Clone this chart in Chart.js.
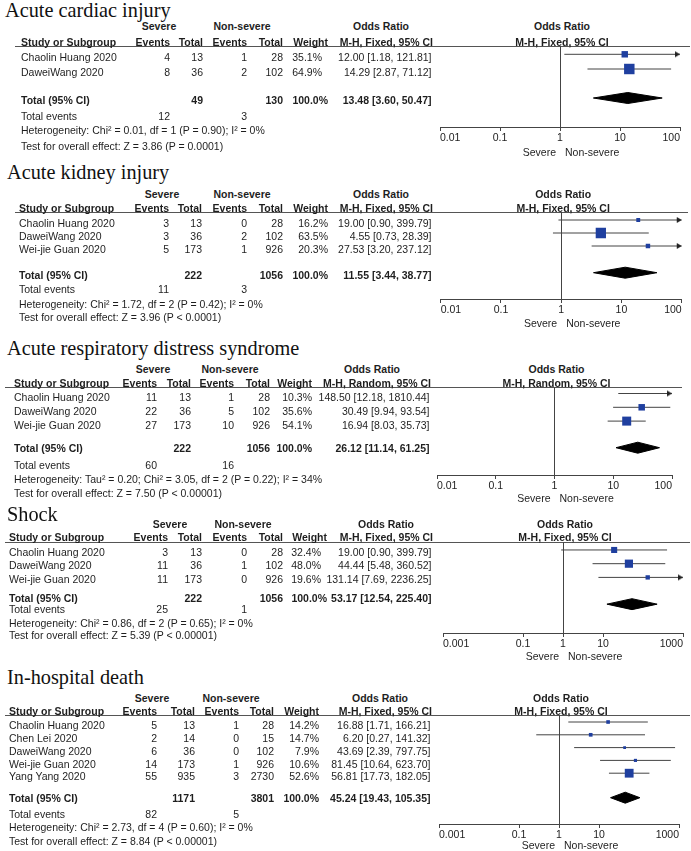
<!DOCTYPE html>
<html>
<head>
<meta charset="utf-8">
<script src="https://cdn.jsdelivr.net/npm/chart.js@4.4.0/dist/chart.umd.min.js"></script>
<style>
  body { margin: 0; background: #fff; }
  #page { position: relative; width: 691px; height: 851px; overflow: hidden; background: #fff;
          font-family: "Liberation Sans", Arial, sans-serif; color: #1e1e1e; }
  .t { position: absolute; white-space: nowrap; font-size: 10.5px; line-height: 12px; }
  .ttl { position: absolute; white-space: nowrap; font-family: "Liberation Serif", "Times New Roman", serif;
         font-size: 20.3px; line-height: 20px; color: #111; }
  canvas { position: absolute; left: 0; }
  .hl { position: absolute; height: 0; border-top: 1px solid #555; }
</style>
</head>
<body>
<div id="page"></div>
<script>
// ---- Acute cardiac injury
const cardiacStudies = ["Chaolin Huang 2020", "DaweiWang 2020"];
const cardiacSevEvents = [4, 8];
const cardiacSevTotal = [13, 36];
const cardiacNonEvents = [1, 2];
const cardiacNonTotal = [28, 102];
const cardiacWeight = [35.1, 64.9];
const cardiacOR = [12.00, 14.29];
const cardiacLow = [1.18, 2.87];
const cardiacHigh = [121.81, 71.12];
const cardiacPooled = [13.48, 3.60, 50.47];
const cardiacTotals = [49, 130, 12, 3]; // severe total, non-severe total, severe events, non-severe events
const cardiacHet = "Chi² = 0.01, df = 1 (P = 0.90); I² = 0%";
const cardiacTest = "Z = 3.86 (P = 0.0001)";
const cardiacTicks = [0.01, 0.1, 1, 10, 100];

// ---- Acute kidney injury
const kidneyStudies = ["Chaolin Huang 2020", "DaweiWang 2020", "Wei-jie Guan 2020"];
const kidneySevEvents = [3, 3, 5];
const kidneySevTotal = [13, 36, 173];
const kidneyNonEvents = [0, 2, 1];
const kidneyNonTotal = [28, 102, 926];
const kidneyWeight = [16.2, 63.5, 20.3];
const kidneyOR = [19.00, 4.55, 27.53];
const kidneyLow = [0.90, 0.73, 3.20];
const kidneyHigh = [399.79, 28.39, 237.12];
const kidneyPooled = [11.55, 3.44, 38.77];
const kidneyTotals = [222, 1056, 11, 3];
const kidneyHet = "Chi² = 1.72, df = 2 (P = 0.42); I² = 0%";
const kidneyTest = "Z = 3.96 (P < 0.0001)";
const kidneyTicks = [0.01, 0.1, 1, 10, 100];

// ---- Acute respiratory distress syndrome
const ardsStudies = ["Chaolin Huang 2020", "DaweiWang 2020", "Wei-jie Guan 2020"];
const ardsSevEvents = [11, 22, 27];
const ardsSevTotal = [13, 36, 173];
const ardsNonEvents = [1, 5, 10];
const ardsNonTotal = [28, 102, 926];
const ardsWeight = [10.3, 35.6, 54.1];
const ardsOR = [148.50, 30.49, 16.94];
const ardsLow = [12.18, 9.94, 8.03];
const ardsHigh = [1810.44, 93.54, 35.73];
const ardsPooled = [26.12, 11.14, 61.25];
const ardsTotals = [222, 1056, 60, 16];
const ardsHet = "Tau² = 0.20; Chi² = 3.05, df = 2 (P = 0.22); I² = 34%";
const ardsTest = "Z = 7.50 (P < 0.00001)";
const ardsTicks = [0.01, 0.1, 1, 10, 100];

// ---- Shock
const shockStudies = ["Chaolin Huang 2020", "DaweiWang 2020", "Wei-jie Guan 2020"];
const shockSevEvents = [3, 11, 11];
const shockSevTotal = [13, 36, 173];
const shockNonEvents = [0, 1, 0];
const shockNonTotal = [28, 102, 926];
const shockWeight = [32.4, 48.0, 19.6];
const shockOR = [19.00, 44.44, 131.14];
const shockLow = [0.90, 5.48, 7.69];
const shockHigh = [399.79, 360.52, 2236.25];
const shockPooled = [53.17, 12.54, 225.40];
const shockTotals = [222, 1056, 25, 1];
const shockHet = "Chi² = 0.86, df = 2 (P = 0.65); I² = 0%";
const shockTest = "Z = 5.39 (P < 0.00001)";
const shockTicks = [0.001, 0.1, 1, 10, 1000];

// ---- In-hospital death
const deathStudies = ["Chaolin Huang 2020", "Chen Lei 2020", "DaweiWang 2020", "Wei-jie Guan 2020", "Yang Yang 2020"];
const deathSevEvents = [5, 2, 6, 14, 55];
const deathSevTotal = [13, 14, 36, 173, 935];
const deathNonEvents = [1, 0, 0, 1, 3];
const deathNonTotal = [28, 15, 102, 926, 2730];
const deathWeight = [14.2, 14.7, 7.9, 10.6, 52.6];
const deathOR = [16.88, 6.20, 43.69, 81.45, 56.81];
const deathLow = [1.71, 0.27, 2.39, 10.64, 17.73];
const deathHigh = [166.21, 141.32, 797.75, 623.70, 182.05];
const deathPooled = [45.24, 19.43, 105.35];
const deathTotals = [1171, 3801, 82, 5];
const deathHet = "Chi² = 2.73, df = 4 (P = 0.60); I² = 0%";
const deathTest = "Z = 8.84 (P < 0.00001)";
const deathTicks = [0.001, 0.1, 1, 10, 1000];

// layout: c = right edges of [study(left), sev events, sev total, non events, non total, weight, CI]; wv = right edge of weight values
const panels = [
  { title: "Acute cardiac injury", method: "Fixed", studies: cardiacStudies, se: cardiacSevEvents, st: cardiacSevTotal,
    ne: cardiacNonEvents, nt: cardiacNonTotal, w: cardiacWeight, or: cardiacOR, lo: cardiacLow, hi: cardiacHigh,
    pooled: cardiacPooled, totals: cardiacTotals, het: cardiacHet, test: cardiacTest, ticks: cardiacTicks,
    L: { title: 9.8, tx: 5, h1: 26, h2: 42, line: 46, lx0: 15, lx1: 690, row0: 54.3, step: 14.7, tdy: 3, total: 100, diam: 98,
         tev: 116, het: 130, test: 146, axis: 127, x0: 440, x1: 680, foot: 152,
         c: [21, 170, 203, 247, 283, 328, 433], wv: 322, sevC: 159, nonC: 242, orC: 381 } },
  { title: "Acute kidney injury", method: "Fixed", studies: kidneyStudies, se: kidneySevEvents, st: kidneySevTotal,
    ne: kidneyNonEvents, nt: kidneyNonTotal, w: kidneyWeight, or: kidneyOR, lo: kidneyLow, hi: kidneyHigh,
    pooled: kidneyPooled, totals: kidneyTotals, het: kidneyHet, test: kidneyTest, ticks: kidneyTicks,
    L: { title: 171.7, tx: 7, h1: 194, h2: 208, line: 212, lx0: 15, lx1: 688, row0: 220, step: 13, tdy: 3, total: 275, diam: 272.7,
         tev: 289, het: 304, test: 317, axis: 299, x0: 440.7, x1: 681.7, foot: 323,
         c: [19, 169, 202, 247, 283, 328, 433], wv: 328, sevC: 162, nonC: 242, orC: 381 } },
  { title: "Acute respiratory distress syndrome", method: "Random", studies: ardsStudies, se: ardsSevEvents, st: ardsSevTotal,
    ne: ardsNonEvents, nt: ardsNonTotal, w: ardsWeight, or: ardsOR, lo: ardsLow, hi: ardsHigh,
    pooled: ardsPooled, totals: ardsTotals, het: ardsHet, test: ardsTest, ticks: ardsTicks,
    L: { title: 347.7, tx: 7, h1: 369, h2: 383, line: 387, lx0: 5, lx1: 682, row0: 393.5, step: 13.8, tdy: 3.5, total: 448, diam: 447.7,
         tev: 465, het: 479, test: 493, axis: 475, x0: 437, x1: 672, foot: 498,
         c: [14, 157, 191, 234, 270, 312, 431], wv: 312, sevC: 153, nonC: 230, orC: 372 } },
  { title: "Shock", method: "Fixed", studies: shockStudies, se: shockSevEvents, st: shockSevTotal,
    ne: shockNonEvents, nt: shockNonTotal, w: shockWeight, or: shockOR, lo: shockLow, hi: shockHigh,
    pooled: shockPooled, totals: shockTotals, het: shockHet, test: shockTest, ticks: shockTicks,
    L: { title: 514, tx: 7, h1: 524, h2: 537, line: 541.5, lx0: 5, lx1: 690, row0: 549.5, step: 13.8, tdy: 2, total: 598, diam: 604,
         tev: 609, het: 623, test: 635, axis: 633, x0: 443, x1: 683, foot: 656,
         c: [9, 168, 202, 247, 283, 327, 433], wv: 321, sevC: 170, nonC: 243, orC: 386 } },
  { title: "In-hospital death", method: "Fixed", studies: deathStudies, se: deathSevEvents, st: deathSevTotal,
    ne: deathNonEvents, nt: deathNonTotal, w: deathWeight, or: deathOR, lo: deathLow, hi: deathHigh,
    pooled: deathPooled, totals: deathTotals, het: deathHet, test: deathTest, ticks: deathTicks,
    L: { title: 677, tx: 7, h1: 698, h2: 711, line: 715, lx0: 5, lx1: 690, row0: 722, step: 12.8, tdy: 3, total: 798, diam: 797.7,
         tev: 814, het: 827, test: 841, axis: 824, x0: 439, x1: 679, foot: 845,
         c: [9, 157, 195, 239, 274, 319, 432], wv: 319, sevC: 152, nonC: 231, orC: 380 } }
];

const BLUE = "#1f3f9f";
const LINE = "#444";
const FONT = '"Liberation Sans", Arial, sans-serif';
const page = document.getElementById("page");

// arrow head with its tip in the middle of the image, so it ends on the axis limit
const arrowImg = document.createElement("canvas");
arrowImg.width = 14;
arrowImg.height = 8;
(function () {
  const g = arrowImg.getContext("2d");
  g.fillStyle = "#222";
  g.beginPath();
  g.moveTo(2, 1);
  g.lineTo(7, 4);
  g.lineTo(2, 7);
  g.closePath();
  g.fill();
})();

function addText(x, y, s, align, bold) {
  const d = document.createElement("div");
  d.className = "t";
  d.textContent = s;
  d.style.left = x + "px";
  d.style.top = (y - 5.9) + "px";
  if (align === "r") d.style.transform = "translateX(-100%)";
  if (align === "c") d.style.transform = "translateX(-50%)";
  if (bold) d.style.fontWeight = "bold";
  page.appendChild(d);
}
const f2 = v => v.toFixed(2);
const ciText = (o, l, h) => f2(o) + " [" + f2(l) + ", " + f2(h) + "]";

panels.forEach(p => {
  const L = p.L;
  const axMin = p.ticks[0];
  const axMax = p.ticks[p.ticks.length - 1];
  const yMin = (L.line - L.row0) / L.step;
  const yMax = (L.axis - L.row0) / L.step;
  const dY = (L.diam - L.row0) / L.step;
  const dh = 5.5 / L.step;

  // title
  const t = document.createElement("div");
  t.className = "ttl";
  t.textContent = p.title;
  t.style.left = L.tx + "px";
  t.style.top = (L.title - 10.1) + "px";
  page.appendChild(t);

  // header rule
  const hl = document.createElement("div");
  hl.className = "hl";
  hl.style.left = L.lx0 + "px";
  hl.style.width = (L.lx1 - L.lx0) + "px";
  hl.style.top = L.line + "px";
  page.appendChild(hl);

  const canvas = document.createElement("canvas");
  const ch = L.axis - L.line + 30;
  canvas.width = 720;
  canvas.height = ch;
  canvas.style.top = L.line + "px";
  page.appendChild(canvas);

  const datasets = [];
  const side = p.w.map(w => (1.7 + 0.135 * w) / Math.SQRT2);
  // squares (drawn on top)
  datasets.push({
    data: p.or.map((v, i) => ({ x: v, y: i })),
    showLine: false, pointStyle: "rect", pointRadius: side, pointHoverRadius: side,
    backgroundColor: BLUE, borderColor: BLUE, pointBorderWidth: 0
  });
  // arrows for intervals running off the axis
  const arrows = [];
  p.hi.forEach((h, i) => { if (h > axMax) arrows.push({ x: axMax, y: i }); });
  datasets.push({
    data: arrows, showLine: false, pointStyle: arrowImg,
    pointRadius: 4, pointHoverRadius: 4, clip: false
  });
  // confidence interval lines
  p.studies.forEach((s, i) => {
    datasets.push({
      data: [{ x: Math.max(p.lo[i], axMin), y: i }, { x: Math.min(p.hi[i], axMax), y: i }],
      borderColor: LINE, borderWidth: 1, pointRadius: 0, pointHoverRadius: 0, fill: false
    });
  });
  // pooled diamond
  const [po, pl, ph] = p.pooled;
  datasets.push({
    data: [{ x: pl, y: dY }, { x: po, y: dY - dh }, { x: ph, y: dY }, { x: po, y: dY + dh }, { x: pl, y: dY }],
    borderColor: "#000", backgroundColor: "#000", borderWidth: 1, pointRadius: 0, pointHoverRadius: 0,
    fill: "shape", tension: 0
  });

  const chart = new Chart(canvas, {
    type: "line",
    data: { datasets },
    options: {
      responsive: false, animation: false, events: [],
      layout: { autoPadding: false, padding: { left: L.x0, right: 720 - L.x1, top: 0, bottom: 0 } },
      plugins: { legend: { display: false }, tooltip: { enabled: false } },
      scales: {
        x: {
          type: "logarithmic", min: axMin, max: axMax,
          afterBuildTicks: s => { s.ticks = p.ticks.map(v => ({ value: v })); },
          afterFit: s => { s.height = 30; },
          ticks: { autoSkip: false, maxRotation: 0, padding: 1, color: "#222", align: "inner",
                   font: { family: FONT, size: 10.5 }, callback: v => String(v) },
          grid: { color: c => (c.tick && c.tick.value === 1) ? LINE : "rgba(0,0,0,0)",
                  tickColor: LINE, tickLength: 4, lineWidth: 1 },
          border: { display: true, color: LINE, width: 1 }
        },
        y: { type: "linear", reverse: true, min: yMin, max: yMax, display: false }
      }
    }
  });

  const xs = chart.scales.x, ys = chart.scales.y;
  const one = xs.getPixelForValue(1);
  const rowY = i => L.line + ys.getPixelForValue(i) + L.tdy;
  const c = L.c;

  // column headers
  addText(L.sevC, L.h1, "Severe", "c", true);
  addText(L.nonC, L.h1, "Non-severe", "c", true);
  addText(L.orC, L.h1, "Odds Ratio", "c", true);
  addText(one + 2, L.h1, "Odds Ratio", "c", true);
  addText(c[0], L.h2, "Study or Subgroup", "l", true);
  addText(c[1], L.h2, "Events", "r", true);
  addText(c[2], L.h2, "Total", "r", true);
  addText(c[3], L.h2, "Events", "r", true);
  addText(c[4], L.h2, "Total", "r", true);
  addText(c[5], L.h2, "Weight", "r", true);
  addText(c[6], L.h2, "M-H, " + p.method + ", 95% CI", "r", true);
  addText(one + 2, L.h2, "M-H, " + p.method + ", 95% CI", "c", true);

  // study rows
  p.studies.forEach((s, i) => {
    const y = rowY(i);
    addText(c[0], y, s, "l");
    addText(c[1], y, String(p.se[i]), "r");
    addText(c[2], y, String(p.st[i]), "r");
    addText(c[3], y, String(p.ne[i]), "r");
    addText(c[4], y, String(p.nt[i]), "r");
    addText(L.wv, y, p.w[i].toFixed(1) + "%", "r");
    addText(c[6] - 1.5, y, ciText(p.or[i], p.lo[i], p.hi[i]), "r");
  });

  // totals
  addText(c[0], L.total, "Total (95% CI)", "l", true);
  addText(c[2], L.total, String(p.totals[0]), "r", true);
  addText(c[4], L.total, String(p.totals[1]), "r", true);
  addText(c[5], L.total, "100.0%", "r", true);
  addText(c[6] - 1.5, L.total, ciText(po, pl, ph), "r", true);
  addText(c[0], L.tev, "Total events", "l");
  addText(c[1], L.tev, String(p.totals[2]), "r");
  addText(c[3], L.tev, String(p.totals[3]), "r");
  addText(c[0], L.het, "Heterogeneity: " + p.het, "l");
  addText(c[0], L.test, "Test for overall effect: " + p.test, "l");

  // favours labels
  addText(one - 4, L.foot, "Severe", "r");
  addText(one + 5, L.foot, "Non-severe", "l");
});
</script>
</body>
</html>
